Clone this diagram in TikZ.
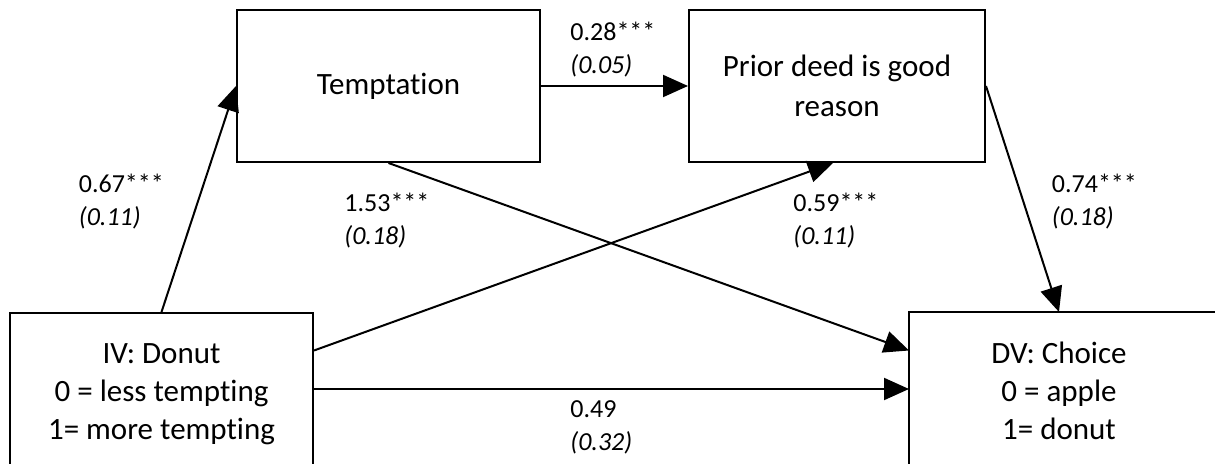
\documentclass[tikz,border=0pt]{standalone}
\usepackage{fontspec}
\setmainfont{Carlito}[Ligatures={NoCommon}]
\usetikzlibrary{arrows.meta,calc}
\tikzset{
  box/.style={draw, line width=1pt, minimum height=76pt, align=center,
    font=\fontsize{15.5pt}{19pt}\selectfont, inner sep=0pt},
  path/.style={line width=1pt, -{Triangle[length=12.5pt,width=11pt]}},
  coef/.style={anchor=west, align=left, inner sep=0pt,
    font=\fontsize{13pt}{16.5pt}\selectfont}
}
\begin{document}
\begin{tikzpicture}[x=0.5pt,y=-0.5pt]
\useasboundingbox (0,0) rectangle (1215,464);
\clip (0,0) rectangle (1215,464);
\node[box, minimum width=151.5pt] (T) at (388.5,86) {Temptation};
\node[box, minimum width=148pt, font=\fontsize{15.5pt}{20pt}\selectfont] (P) at (837,86) {Prior deed is good\\reason};
\node[box, minimum width=151.5pt] (IV) at (161.5,389) {\raisebox{-2.5pt}[\height][\depth]{\begin{tabular}{@{}c@{}}IV: Donut\\0 = less tempting\\1= more tempting\end{tabular}}};
\node[box, draw=none, minimum width=149pt] (DV) at (1059,389) {\raisebox{-2.5pt}[\height][\depth]{\begin{tabular}{@{}c@{}}DV: Choice\\0 = apple\\1= donut\end{tabular}}};
\draw[line width=1pt] (DV.north west) rectangle ([xshift=12pt]DV.south east);
\coordinate (DVa) at ($(DV.north west)!0.25!(DV.south west)$);
\coordinate (IVa) at ($(IV.north east)!0.25!(IV.south east)$);
\draw[path] (IV.north) -- (T.west);
\draw[path] (T.east) -- (P.west);
\draw[path] (T.south) -- (DVa);
\draw[path] (IVa) -- ([xshift=-2pt]P.south);
\draw[path] (IV.east) -- (DV.west);
\draw[path] (P.east) -- (DV.north);
\node[coef] (c1) at (570,50) {0.28***\\\textit{(0.05)}};
\node[coef] (c2) at (78.5,201.5) {0.67***\\\textit{(0.11)}};
\node[coef] (c3) at (344,220.5) {1.53***\\\textit{(0.18)}};
\node[coef] (c4) at (793,220.5) {0.59***\\\textit{(0.11)}};
\node[coef] (c5) at (1051.5,202) {0.74***\\\textit{(0.18)}};
\node[coef] (c6) at (570,427) {0.49\\\textit{(0.32)}};
\end{tikzpicture}
\end{document}
